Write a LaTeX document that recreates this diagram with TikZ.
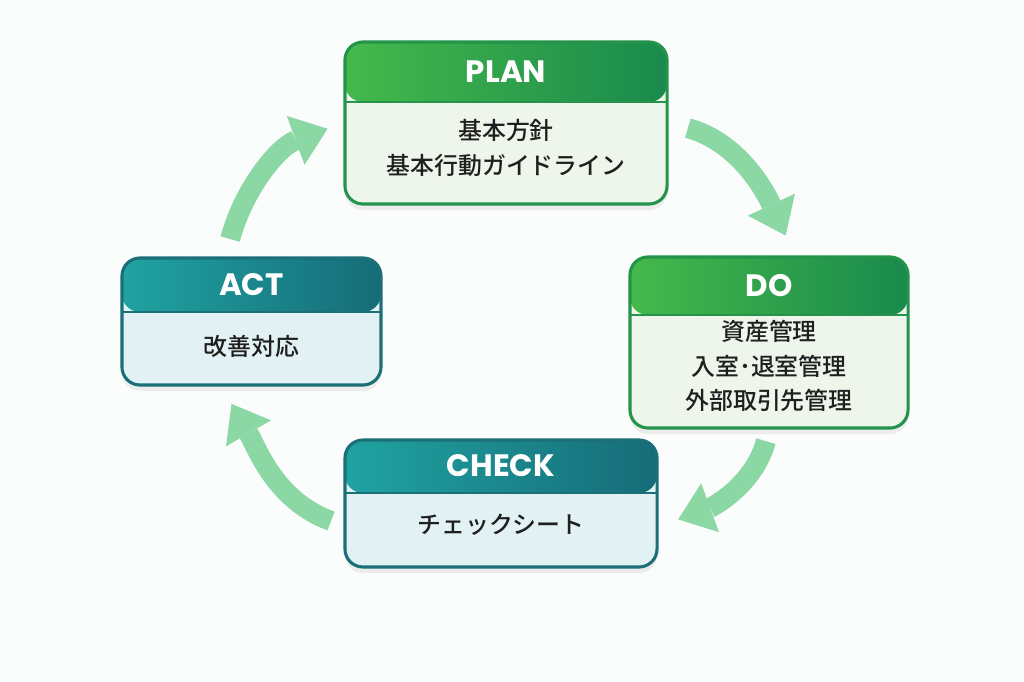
\documentclass[tikz,border=0pt]{standalone}
\usepackage{fontspec}
\newfontfamily\jpfont{Noto Sans CJK JP Medium}
\newfontfamily\titlefont{Poppins}
\usetikzlibrary{arrows.meta,shadows}

\definecolor{pdcagreen}{HTML}{23944A}
\definecolor{greenleft}{HTML}{45B94B}
\definecolor{greenright}{HTML}{198A4C}
\definecolor{greenbg}{HTML}{EEF5EB}
\definecolor{pdcateal}{HTML}{1B6F78}
\definecolor{tealleft}{HTML}{20A3A2}
\definecolor{tealright}{HTML}{166C78}
\definecolor{tealbg}{HTML}{E2F1F3}
\definecolor{cyclegreen}{HTML}{8CD8A4}
\definecolor{pagebg}{HTML}{FBFCFC}

\tikzset{
	card/.style={rounded corners=0.45cm, line width=2.2pt, inner sep=0pt,
		drop shadow={shadow xshift=0cm, shadow yshift=-0.15cm, opacity=0.12}},
	greencard/.style={card, draw=pdcagreen, fill=greenbg,
		path picture={\shade[left color=greenleft, right color=greenright]
			(path picture bounding box.north west) rectangle ([yshift=-#1]path picture bounding box.north east);
			\draw[pdcagreen, line width=0.8pt] ([yshift=-#1]path picture bounding box.north west) -- ([yshift=-#1]path picture bounding box.north east);}},
	tealcard/.style={card, draw=pdcateal, fill=tealbg,
		path picture={\shade[left color=tealleft, right color=tealright]
			(path picture bounding box.north west) rectangle ([yshift=-#1]path picture bounding box.north east);
			\draw[pdcateal, line width=0.8pt] ([yshift=-#1]path picture bounding box.north west) -- ([yshift=-#1]path picture bounding box.north east);}},
	cardtitle/.style={text=white, font=\titlefont\bfseries\fontsize{22}{26}\selectfont},
	cardtext/.style={align=center, text=black!88, font=\jpfont\fontsize{17}{24.5}\selectfont},
	cyclearrow/.style={draw=cyclegreen, line width=0.5cm, -{Triangle[width=1.3cm,length=0.85cm,line width=0pt]}}
}

\begin{document}
\begin{tikzpicture}[x=0.025cm,y=-0.025cm]
	\fill[pagebg] (0,0) rectangle (1024,682);
	\useasboundingbox (0,0) rectangle (1024,682);

	\node[greencard=1.5cm, minimum width=8.05cm, minimum height=4.05cm] (plan) at (506,123) {};
	\node[cardtitle] (plantitle) at (506,72) {PLAN};
	\node[cardtext] (plantext) at (506,148) {基本方針\\基本行動ガイドライン};

	\node[greencard=1.45cm, minimum width=6.95cm, minimum height=4.275cm] (do) at (769,342.5) {};
	\node[cardtitle] (dotitle) at (769,286) {DO};
	\node[cardtext] (dotext) at (769,366) {資産管理\\入室･退室管理\\外部取引先管理};

	\node[tealcard=1.325cm, minimum width=7.8cm, minimum height=3.175cm] (check) at (501,503.5) {};
	\node[cardtitle] (checktitle) at (501,466) {CHECK};
	\node[cardtext] (checktext) at (501,525) {チェックシート};

	\node[tealcard=1.35cm, minimum width=6.475cm, minimum height=3.175cm] (act) at (251.5,321.5) {};
	\node[cardtitle] (acttitle) at (251.5,285) {ACT};
	\node[cardtext] (acttext) at (251.5,346) {改善対応};

	% cycle arrows
	\draw[cyclearrow, shorten <=0.5cm, shorten >=0.55cm] (plan.east) to[out=-15, in=115] ([xshift=0.65cm]do.north);
	\draw[cyclearrow, shorten <=0.3cm, shorten >=0.52cm] (do.south) to[out=-105, in=20] ([yshift=-0.575cm]check.east);
	\draw[cyclearrow, shorten <=0.33cm, shorten >=0.5cm] ([yshift=-0.55cm]check.west) to[out=160, in=-60] ([xshift=-0.75cm]act.south);
	\draw[cyclearrow, shorten <=0.45cm, shorten >=0.42cm] ([xshift=-0.65cm]act.north) to[out=75, in=200] (plan.west);
\end{tikzpicture}
\end{document}
